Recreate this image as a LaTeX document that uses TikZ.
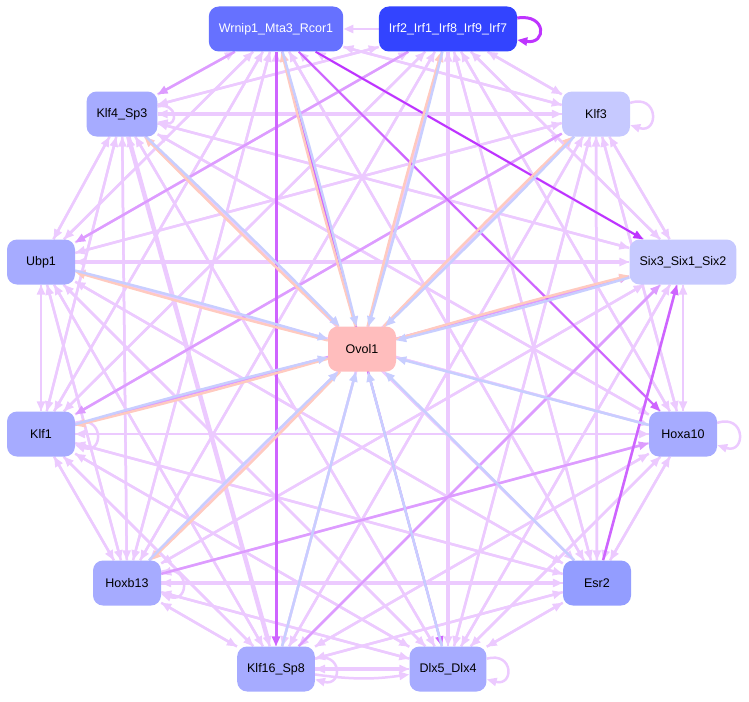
\documentclass[tikz,border=0pt]{standalone}
\usepackage{fontspec}
\setmainfont{Liberation Sans}
\usetikzlibrary{arrows.meta,backgrounds}

\definecolor{lilac}{RGB}{236,202,255}
\definecolor{mauve}{RGB}{221,156,255}
\definecolor{violetA}{RGB}{206,100,255}
\definecolor{violetB}{RGB}{190,52,255}
\definecolor{peach}{RGB}{255,202,192}
\definecolor{sky}{RGB}{200,206,255}
\definecolor{cWrn}{RGB}{102,113,255}
\definecolor{cIrf}{RGB}{51,68,255}
\definecolor{cMid}{RGB}{166,171,255}
\definecolor{cPale}{RGB}{198,201,255}
\definecolor{cEsr}{RGB}{147,157,255}
\definecolor{cOvol}{RGB}{255,189,189}

\begin{document}
\begin{tikzpicture}[x=1pt,y=-1pt]
\tikzstyle{gene}=[rounded corners=10pt,minimum height=45pt,minimum width=68pt,inner xsep=10pt,font=\fontsize{12.5}{15}\selectfont];
\tikzstyle{dir}=[-{Triangle[length=10pt,width=8pt]},lilac,line width=2.5pt];
\tikzstyle{fat}=[line width=4.5pt];
\tikzstyle{self}=[looseness=3.5];

\useasboundingbox (0,0) rectangle (749,701);

\node [gene,fill=cWrn,text=white] (vWrn) at (276,29) {Wrnip1\_Mta3\_Rcor1};
\node [gene,fill=cIrf,text=white] (vIrf) at (448,29) {Irf2\_Irf1\_Irf8\_Irf9\_Irf7};
\node [gene,fill=cMid] (vKlf4) at (122,114) {Klf4\_Sp3};
\node [gene,fill=cPale] (vKlf3) at (596,114) {Klf3};
\node [gene,fill=cMid] (vUbp) at (41,262) {Ubp1};
\node [gene,fill=cPale] (vSix) at (683,262) {Six3\_Six1\_Six2};
\node [gene,fill=cOvol] (vOvol) at (362,349) {Ovol1};
\node [gene,fill=cMid] (vKlf1) at (41,434) {Klf1};
\node [gene,fill=cMid] (vHoxa) at (683,434) {Hoxa10};
\node [gene,fill=cMid] (vHoxb) at (127,583) {Hoxb13};
\node [gene,fill=cEsr] (vEsr) at (597,583) {Esr2};
\node [gene,fill=cMid] (vKlf16) at (276,669) {Klf16\_Sp8};
\node [gene,fill=cMid] (vDlx) at (448,669) {Dlx5\_Dlx4};

\begin{scope}[on background layer]
% light links between the outer genes
\draw [dir] (vWrn) edge (vKlf3) edge (vUbp) edge (vKlf1) edge (vHoxb) edge (vEsr);
\draw [dir] (vIrf) edge (vWrn) edge (vKlf4) edge (vKlf3) edge (vSix) edge (vKlf1) edge (vHoxa) edge (vHoxb) edge (vEsr) edge (vKlf16) edge [fat] (vDlx);
\draw [dir] (vKlf4) edge (vWrn) edge (vIrf) edge [fat] (vKlf3) edge (vUbp) edge (vSix) edge (vKlf1) edge (vHoxa) edge (vHoxb) edge (vEsr) edge [fat] (vKlf16) edge (vDlx);
\draw [dir] (vKlf3) edge (vWrn) edge (vIrf) edge (vKlf4) edge (vUbp) edge (vSix) edge (vHoxa) edge (vHoxb) edge (vEsr) edge (vKlf16) edge (vDlx);
\draw [dir] (vUbp) edge (vWrn) edge (vIrf) edge (vKlf4) edge (vKlf3) edge [fat] (vSix) edge (vKlf1) edge (vHoxa) edge (vHoxb) edge (vEsr) edge (vKlf16) edge (vDlx);
\draw [dir] (vSix) edge (vWrn) edge (vIrf) edge (vKlf4) edge (vKlf3) edge (vUbp) edge (vKlf1) edge (vHoxa) edge (vHoxb) edge (vEsr) edge (vKlf16) edge (vDlx);
\draw [dir] (vKlf1) edge (vWrn) edge (vIrf) edge (vKlf4) edge (vKlf3) edge (vUbp) edge (vHoxa) edge (vHoxb) edge (vEsr) edge (vKlf16) edge (vDlx);
\draw [dir] (vHoxa) edge (vWrn) edge (vIrf) edge (vKlf4) edge (vKlf3) edge (vUbp) edge (vSix) edge (vKlf1) edge (vHoxb) edge (vEsr) edge (vKlf16) edge (vDlx);
\draw [dir] (vHoxb) edge (vWrn) edge (vIrf) edge (vKlf4) edge (vKlf3) edge (vUbp) edge (vSix) edge (vKlf1) edge [fat] (vEsr) edge (vKlf16) edge (vDlx);
\draw [dir] (vEsr) edge (vWrn) edge (vIrf) edge (vKlf4) edge (vKlf3) edge (vUbp) edge (vKlf1) edge (vHoxa) edge (vHoxb) edge (vKlf16) edge (vDlx);
\draw [dir] (vKlf16) edge (vWrn) edge (vIrf) edge (vKlf4) edge (vKlf3) edge (vUbp) edge (vKlf1) edge (vHoxa) edge (vHoxb) edge (vEsr) edge [fat] (vDlx) edge [bend right=8] (vDlx);
\draw [dir] (vDlx) edge (vWrn) edge (vIrf) edge (vKlf4) edge (vKlf3) edge (vUbp) edge (vSix) edge (vKlf1) edge (vHoxa) edge (vHoxb) edge (vEsr) edge (vKlf16);

% self loops
\draw [dir] (vKlf4) edge [self,out=12,in=-12] (vKlf4);
\draw [dir] (vKlf3) edge [self,out=18,in=-18] (vKlf3);
\draw [dir] (vKlf1) edge [self,out=18,in=-18] (vKlf1);
\draw [dir] (vHoxa) edge [self,out=18,in=-18] (vHoxa);
\draw [dir] (vHoxb) edge [self,out=18,in=-18] (vHoxb);
\draw [dir] (vKlf16) edge [self,out=15,in=-15] (vKlf16);
\draw [dir] (vDlx) edge [self,out=15,in=-15] (vDlx);
\draw [dir,violetB,line width=3pt] (vIrf) edge [self,out=9,in=-9] (vIrf);

% stronger links
\draw [dir,mauve] (vWrn) edge (vKlf4);
\draw [dir,mauve] (vIrf) edge (vUbp);
\draw [dir,mauve] (vKlf3) edge (vKlf1);
\draw [dir,mauve] (vKlf1) edge (vSix);
\draw [dir,mauve] (vHoxb) edge (vHoxa);
\draw [dir,mauve] (vKlf16) edge (vSix);
\draw [dir,violetA,line width=2.5pt] (vEsr) edge (vSix);
\draw [dir,violetA,line width=2pt] (vWrn) edge (vHoxa) edge (vDlx);
\draw [dir,violetA,line width=3pt] (vWrn) edge (vKlf16);
\draw [dir,violetB,line width=2pt] (vWrn) edge (vSix);

% links with Ovol1
\draw [dir,peach,line width=2.5pt] (vOvol) edge [bend left=1] (vWrn) edge [bend left=1] (vIrf) edge [bend left=1] (vKlf4) edge [bend left=1] (vKlf3) edge [bend left=1] (vUbp) edge [bend left=1] (vSix) edge [bend left=1] (vKlf1) edge [bend left=1] (vHoxb);
\draw [dir,sky,line width=2.5pt] (vWrn) edge [bend left=1] (vOvol);
\draw [dir,sky,line width=2.5pt] (vIrf) edge [bend left=1] (vOvol);
\draw [dir,sky,line width=2.5pt] (vKlf4) edge [bend left=1] (vOvol);
\draw [dir,sky,line width=2.5pt] (vKlf3) edge [bend left=1] (vOvol);
\draw [dir,sky,line width=2.5pt] (vUbp) edge [bend left=1] (vOvol);
\draw [dir,sky,line width=2.5pt] (vSix) edge [bend left=1] (vOvol);
\draw [dir,sky,line width=2.5pt] (vKlf1) edge [bend left=1] (vOvol);
\draw [dir,sky,line width=2.5pt] (vHoxb) edge [bend left=1] (vOvol);
\draw [dir,sky,line width=2.5pt] (vHoxa) edge (vOvol);
\draw [dir,sky,line width=2.5pt] (vEsr) edge (vOvol);
\draw [dir,sky,line width=2.5pt] (vKlf16) edge (vOvol);
\draw [dir,sky,line width=2.5pt] (vDlx) edge (vOvol);
\end{scope}
\end{tikzpicture}
\end{document}
